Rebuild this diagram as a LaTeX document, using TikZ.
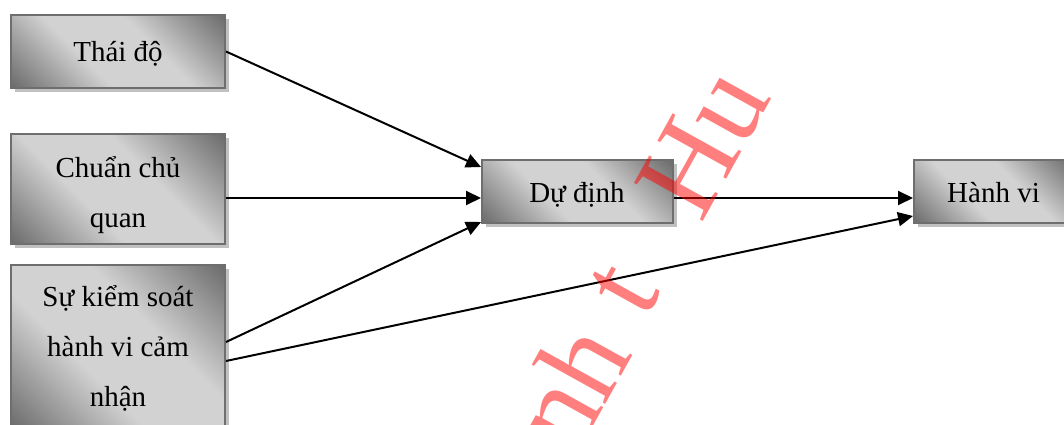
\documentclass[tikz,border=0pt]{standalone}
\usepackage{fontspec}
\setmainfont{Liberation Serif}
\usetikzlibrary{arrows.meta,shadows,calc}

\definecolor{boxdark}{RGB}{104,104,104}
\definecolor{boxlight}{RGB}{210,210,210}
\definecolor{boxline}{RGB}{110,110,110}
\definecolor{boxshadow}{RGB}{192,192,192}

% dark corners, light diagonal band
\pgfdeclarehorizontalshading{boxshade}{100bp}{color(0bp)=(boxdark); color(14bp)=(boxdark); color(40bp)=(boxlight); color(60bp)=(boxlight); color(86bp)=(boxdark); color(100bp)=(boxdark)}

\tikzset{
  flowbox/.style={draw=boxline, line width=2pt, shade, shading=boxshade, shading angle=45,
    inner sep=0pt,
    drop shadow={shadow xshift=4pt, shadow yshift=-4pt, fill=boxshadow, opacity=1}},
  lbl/.style={font=\fontsize{29}{35}\selectfont, anchor=base, inner sep=0pt},
  link/.style={line width=2pt, -{Triangle[length=15pt,width=14pt]}},
  wmark/.style={text=red, text opacity=0.5, font=\fontsize{120}{120}\selectfont,
    rotate=61, inner sep=0pt}
}

\begin{document}
\begin{tikzpicture}[x=1pt,y=-1pt]
\useasboundingbox (0,0) rectangle (1064,425);
\clip (0,0) rectangle (1064,425);

% boxes
\node[flowbox, minimum width=214pt, minimum height=73pt]  (thai)   at (118,51.5)   {};
\node[flowbox, minimum width=214pt, minimum height=110pt] (chuan)  at (118,189)    {};
\node[flowbox, minimum width=214pt, minimum height=164pt] (suks)   at (118,347)    {};
\node[flowbox, minimum width=191pt, minimum height=63pt]  (dudinh) at (577.5,191.5) {};
\node[flowbox, minimum width=159pt, minimum height=63pt]  (hanhvi) at (993.5,191.5) {};

% labels
\node[lbl] (t1)  at (118,62)  {Thái độ};
\node[lbl] (t2a) at (118,177) {Chuẩn chủ};
\node[lbl] (t2b) at (118,227) {quan};
\node[lbl] (t3a) at (118,306) {Sự kiểm soát};
\node[lbl] (t3b) at (118,356) {hành vi cảm};
\node[lbl] (t3c) at (118,406) {nhận};
\node[lbl] (t4)  at (577,202) {Dự định};
\node[lbl] (t5)  at (993.5,202) {Hành vi};

% connectors
\coordinate (mid) at (0,198);
\draw[link] (thai.east) -- ($(dudinh.north west)+(0,8)$);
\draw[link] (chuan.east |- mid) -- (dudinh.west |- mid);
\draw[link] ($(suks.east)+(0,-5)$) -- ($(dudinh.south west)+(0,-2)$);
\draw[link] ($(suks.east)+(0,14)$) -- ($(hanhvi.south west)+(0,-8)$);
\draw[link] (dudinh.east |- mid) -- (hanhvi.west |- mid);

% watermark fragments
\node[wmark] (w1) at (568,386) {nh};
\node[wmark] (w2) at (625,290) {t};
\node[wmark] (w3) at (703,142) {Hu};
\end{tikzpicture}
\end{document}
